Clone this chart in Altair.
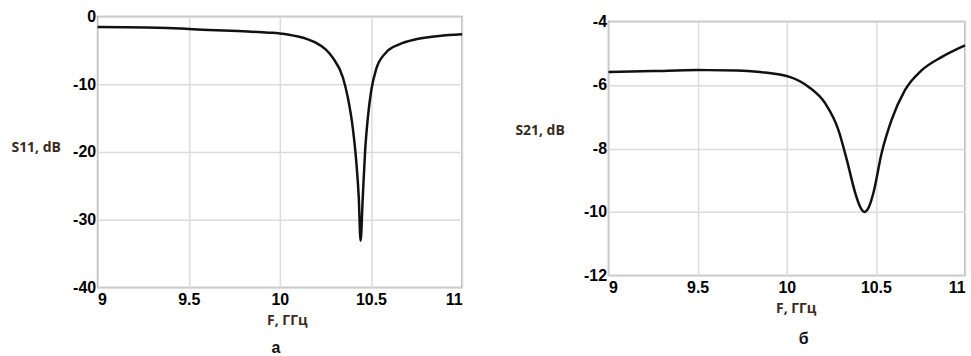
import altair as alt
import pandas as pd

# ---- data ----
f_s11 = [9.0, 9.33, 9.5, 9.61, 9.77, 9.94, 10.0, 10.05, 10.1, 10.15, 10.2, 10.25, 10.29, 10.346,
         10.373, 10.40, 10.419, 10.433, 10.443, 10.455, 10.468, 10.483, 10.501, 10.528,
         10.583, 10.656, 10.747, 10.874, 11.0]
s11 = [-1.55, -1.64, -1.84, -1.99, -2.14, -2.38, -2.5, -2.68, -2.95, -3.33, -3.9, -4.8, -6.06, -9.0,
       -11.96, -16.4, -21.3, -26.7, -33.1, -26.7, -19.8, -14.9, -11.0, -7.8,
       -5.3, -4.1, -3.36, -2.87, -2.63]

f_s21 = [9.0, 9.25, 9.5, 9.72, 9.85, 10.02, 10.123, 10.216, 10.29, 10.337, 10.384, 10.41,
         10.436, 10.46, 10.486, 10.532, 10.588, 10.663, 10.756, 10.868, 11.0]
s21 = [-5.59, -5.56, -5.53, -5.54, -5.59, -5.75, -6.06, -6.58, -7.42, -8.36, -9.4, -9.82,
       -10.0, -9.85, -9.4, -8.15, -7.1, -6.16, -5.54, -5.12, -4.75]

x_ticks = [9, 9.5, 10, 10.5, 11]
y_ticks_s11 = [-40, -30, -20, -10, 0]
y_ticks_s21 = [-12, -10, -8, -6, -4]
captions = ["а", "б"]

df11 = pd.DataFrame({"F": f_s11, "S": s11})
df21 = pd.DataFrame({"F": f_s21, "S": s21})

LABEL_FONT = "Liberation Sans"
TITLE_FONT = "Open Sans"
TITLE_COLOR = "#3a2c20"
ONE = pd.DataFrame({"a": [0]})


def x_axis(title_x):
    return alt.Axis(values=x_ticks, title="F, ГГц", labelExpr="'' + datum.value",
                    titleX=title_x, titleY=33, titleBaseline="middle", titleAlign="center",
                    labelPadding=4)


def y_axis(vals, title, tx, ty):
    return alt.Axis(values=vals, title=title, labelExpr="'' + datum.value",
                    titleAngle=0, titleAlign="left", titleBaseline="middle",
                    titleX=tx, titleY=ty, labelPadding=2)


def spacers(top, bottom):
    # invisible guides that fix each panel's layout extent (for vertical centring)
    t = alt.Chart(ONE).mark_rule(strokeOpacity=0, strokeWidth=1).encode(
        x=alt.value(0), x2=alt.value(20), y=alt.value(top))
    b = alt.Chart(ONE).mark_rule(strokeOpacity=0, strokeWidth=1).encode(
        x=alt.value(0), x2=alt.value(20), y=alt.value(bottom))
    return [t, b]


def caption(text, cx, cy):
    return alt.Chart(ONE).mark_text(font=LABEL_FONT, fontSize=16, fontWeight="bold",
                                    color="#111111", baseline="middle", align="center").encode(
        x=alt.value(cx), y=alt.value(cy), text=alt.value(text))


line11 = alt.Chart(df11).mark_line(color="#111111", strokeWidth=2.5, interpolate="monotone").encode(
    x=alt.X("F:Q", scale=alt.Scale(domain=[9, 11], nice=False), axis=x_axis(190)),
    y=alt.Y("S:Q", scale=alt.Scale(domain=[-40, 0], nice=False),
            axis=y_axis(y_ticks_s11, "S11, dB", -87, 131.5)),
)

left = alt.layer(line11, caption(captions[0], 179, 272 + 61),
                 *spacers(-9.5, 272 + 72.5)).properties(width=366, height=272)

line21 = alt.Chart(df21).mark_line(color="#111111", strokeWidth=2.5, interpolate="monotone").encode(
    x=alt.X("F:Q", scale=alt.Scale(domain=[9, 11], nice=False), axis=x_axis(188)),
    y=alt.Y("S:Q", scale=alt.Scale(domain=[-12, -4], nice=False),
            axis=y_axis(y_ticks_s21, "S21, dB", -94, 109)),
)

right = alt.layer(line21, caption(captions[1], 196, 255 + 64),
                  *spacers(-10.5, 255 + 79.5)).properties(width=358, height=255)

chart = alt.hconcat(left, right, spacing=46, center=True).properties(
    padding={"left": 10, "top": 5.5, "right": 0, "bottom": 0},
    background="white",
).configure_view(
    stroke="#9a9a9a", strokeWidth=1.5,
).configure_axis(
    grid=True, gridColor="#dcdcdc", gridWidth=1.5,
    domain=False, ticks=False,
    labelFont=LABEL_FONT, labelFontSize=16, labelFontWeight=700, labelColor="#000000",
    titleFont=TITLE_FONT, titleFontSize=14, titleFontWeight="bold", titleColor=TITLE_COLOR,
)

chart.save("out.html", embed_options={"renderer": "svg", "actions": False})
